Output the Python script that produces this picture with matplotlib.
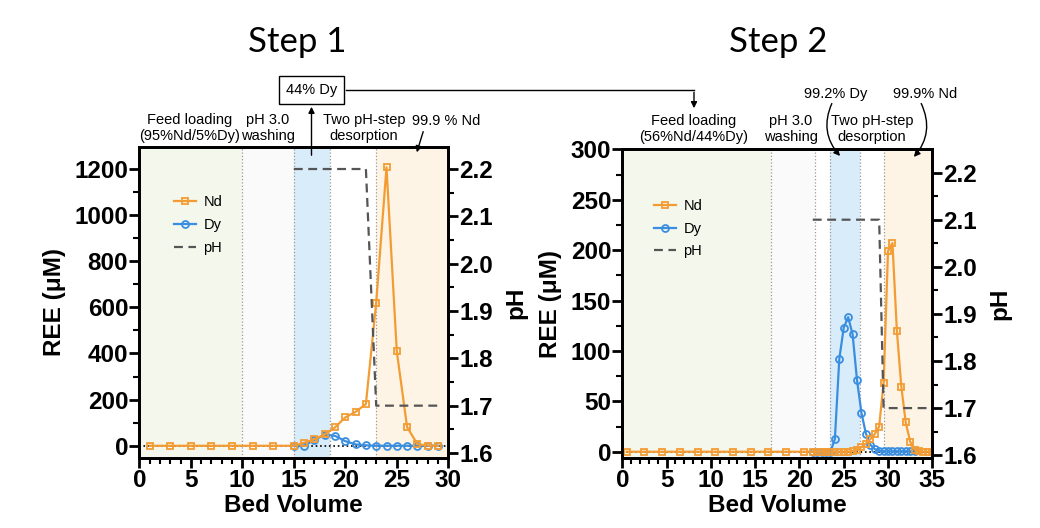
import matplotlib
matplotlib.use("Agg")
import matplotlib.pyplot as plt
from matplotlib.patches import FancyArrowPatch
from matplotlib.lines import Line2D
from matplotlib.ticker import MultipleLocator

plt.rcParams['font.family'] = ['Liberation Sans', 'DejaVu Sans']

W, H = 1040, 528

# ---- Step 1 data ----
s1_x = [1, 3, 5, 7, 9, 11, 13, 15, 16, 17, 18, 19, 20, 21, 22, 23, 24, 25, 26, 27, 28, 29]
s1_nd = [0, 0, 0, 0, 0, 0, 0, 0, 13, 28, 49, 80, 123, 147, 181, 621, 1207, 409, 81, 7, 1, 0]
s1_dy_x = [15, 16, 17, 18, 19, 20, 21, 22, 23, 24, 25, 26, 27, 28, 29]
s1_dy = [0, 1, 25, 48, 43, 20, 6, 2, 0, 0, 0, 0, 0, 0, 0]
s1_ph_x = [15, 22, 23, 29]
s1_ph = [2.2, 2.2, 1.7, 1.7]

# ---- Step 2 data ----
s2_x = [0.5, 2.5, 4.5, 6.5, 8.5, 10.5, 12.5, 14.5, 16.5, 18.5, 20.5,
        21.5, 22, 22.5, 23, 23.5, 24, 24.5, 25, 25.5, 26, 26.5, 27, 27.5, 28,
        28.5, 29, 29.5, 30, 30.5, 31, 31.5, 32, 32.5, 33, 33.5, 34, 34.5, 35]
s2_nd = [0, 0, 0, 0, 0, 0, 0, 0, 0, 0, 0,
         0, 0, 0, 0, 0, 0, 0, 0, 0, 0.5, 1.7, 4.5, 8, 12.5,
         17.5, 25, 68.5, 199, 207, 120, 64.6, 29, 10, 2, 0.3, 0, 0, 0]
s2_dy_x = [21.5, 22, 22.5, 23, 23.5, 24, 24.5, 25, 25.5, 26, 26.5, 27, 27.5, 28,
           28.5, 29, 29.5, 30, 30.5, 31, 31.5, 32, 32.5, 33]
s2_dy = [0, 0, 0, 0, 0, 12.5, 92, 123, 133.5, 116.5, 71, 38.5, 18, 7,
         2.5, 1, 0.3, 0.3, 0.3, 0.3, 0.3, 0.3, 0.3, 0.3]
s2_ph_x = [21.5, 29, 29.5, 35]
s2_ph = [2.1, 2.1, 1.7, 1.7]

# shaded zones: (start, end, colour)
s1_zones = [(0, 10, '#f4f7ec'), (10, 15, '#fafafa'), (15, 18.5, '#d9ecfa'),
            (18.5, 23, '#ffffff'), (23, 30, '#fdf4e6')]
s2_zones = [(0, 16.75, '#f4f7ec'), (16.75, 21.75, '#fafafa'), (21.75, 23.5, '#ffffff'),
            (23.5, 26.8, '#d9ecfa'), (26.8, 29.5, '#ffffff'), (29.5, 35, '#fdf4e6')]

ND_C = '#f39c34'
DY_C = '#3a8ee0'
PH_C = '#555555'


def fp(x, y):
    return (x / W, 1 - y / H)


def style_axis(ax):
    for sp in ax.spines.values():
        sp.set_linewidth(2)
    ax.tick_params(which='major', direction='out', length=7, width=2, labelsize=17.5, pad=1)
    ax.tick_params(which='minor', direction='out', length=4, width=1.5)
    for lab in ax.get_xticklabels() + ax.get_yticklabels():
        lab.set_fontweight('bold')


def draw_panel(rect, xs, nd, dx, dy, phx, ph, zones, xmax, ylim, ylim2,
               ymaj, ymin, legend_anchor):
    ax = fig.add_axes(rect)
    for a, b, c in zones:
        ax.axvspan(a, b, color=c, lw=0, zorder=0)
    for a, b, c in zones[1:]:
        ax.axvline(a, color='#999999', ls=':', lw=0.9, zorder=0.5)
    ax.axhline(0, color='black', ls=':', lw=1.2, zorder=1)
    l_dy, = ax.plot(dx, dy, '-o', color=DY_C, lw=1.6, ms=5, mfc='none', mew=1.3,
                    label='Dy', zorder=2)
    l_nd, = ax.plot(xs, nd, '-s', color=ND_C, lw=1.6, ms=5, mfc='none', mew=1.3,
                    label='Nd', zorder=3)
    ax.set_xlim(0, xmax)
    ax.set_ylim(*ylim)
    ax.xaxis.set_major_locator(MultipleLocator(5))
    ax.xaxis.set_minor_locator(MultipleLocator(1))
    ax.yaxis.set_major_locator(MultipleLocator(ymaj))
    ax.yaxis.set_minor_locator(MultipleLocator(ymin))
    ax.set_xlabel('Bed Volume', fontsize=17.5, fontweight='bold', labelpad=1)
    ax.set_ylabel('REE (\u03bcM)', fontsize=17.5, fontweight='bold', labelpad=6)

    ax2 = ax.twinx()
    l_ph, = ax2.plot(phx, ph, color=PH_C, lw=1.6, dashes=(4, 2.5), label='pH')
    ax2.set_ylim(*ylim2)
    ax2.yaxis.set_major_locator(MultipleLocator(0.1))
    ax2.yaxis.set_minor_locator(MultipleLocator(0.05))
    ax2.set_ylabel('pH', fontsize=17.5, fontweight='bold', labelpad=8)
    style_axis(ax)
    style_axis(ax2)
    ax2.legend(handles=[l_nd, l_dy, l_ph], loc='upper left', bbox_to_anchor=legend_anchor,
               frameon=False, fontsize=10.5, handlelength=1.5, handletextpad=0.5,
               labelspacing=0.6, borderaxespad=0)
    return ax, ax2


fig = plt.figure(figsize=(W / 100, H / 100), dpi=100)

draw_panel([139.3 / W, 70 / H, 309 / W, 311 / H], s1_x, s1_nd, s1_dy_x, s1_dy,
           s1_ph_x, s1_ph, s1_zones, 30, (-53, 1295), (1.5894, 2.2465),
           200, 100, (0.094, 0.864))
draw_panel([622.3 / W, 70 / H, 310 / W, 308.7 / H], s2_x, s2_nd, s2_dy_x, s2_dy,
           s2_ph_x, s2_ph, s2_zones, 35, (-6.25, 300), (1.594, 2.2495),
           50, 25, (0.084, 0.858))

# titles
fig.text(*fp(297, 42), 'Step 1', fontsize=25, family='Lato', ha='center', va='center')
fig.text(*fp(778, 42), 'Step 2', fontsize=25, family='Lato', ha='center', va='center')

small = dict(fontsize=10.5, ha='center', va='center', linespacing=1.15)
fig.text(*fp(190, 128), 'Feed loading\n(95%Nd/5%Dy)', **small)
fig.text(*fp(268, 128), 'pH 3.0\nwashing', **small)
fig.text(*fp(364, 128), 'Two pH-step\ndesorption', **small)
fig.text(*fp(446, 121), '99.9 % Nd', **small)
fig.text(*fp(311.5, 90), '44% Dy',
         bbox=dict(boxstyle='square,pad=0.45', fc='white', ec='black', lw=1), **small)

fig.text(*fp(694, 129), 'Feed loading\n(56%Nd/44%Dy)', **small)
fig.text(*fp(791, 129), 'pH 3.0\nwashing', **small)
fig.text(*fp(872, 129), 'Two pH-step\ndesorption', **small)
fig.text(*fp(836, 94), '99.2% Dy', **small)
fig.text(*fp(925, 94), '99.9% Nd', **small)

arrow_kw = dict(transform=fig.transFigure, arrowstyle='-|>', mutation_scale=9,
                color='black', lw=1)
fig.add_artist(FancyArrowPatch(fp(424, 129), fp(416, 155), **arrow_kw))
fig.add_artist(FancyArrowPatch(fp(311.5, 158), fp(311.5, 104), **arrow_kw))
fig.add_artist(Line2D([fp(346, 90)[0], fp(694, 90)[0]], [fp(346, 90)[1], fp(694, 90)[1]],
                      transform=fig.transFigure, color='black', lw=1))
fig.add_artist(FancyArrowPatch(fp(694, 89.5), fp(694, 111), **arrow_kw))
fig.add_artist(FancyArrowPatch(fp(833, 101), fp(842, 158),
                               connectionstyle='arc3,rad=0.35', **arrow_kw))
fig.add_artist(FancyArrowPatch(fp(920, 101), fp(912, 159),
                               connectionstyle='arc3,rad=-0.35', **arrow_kw))

fig.savefig('out.png', dpi=100)
